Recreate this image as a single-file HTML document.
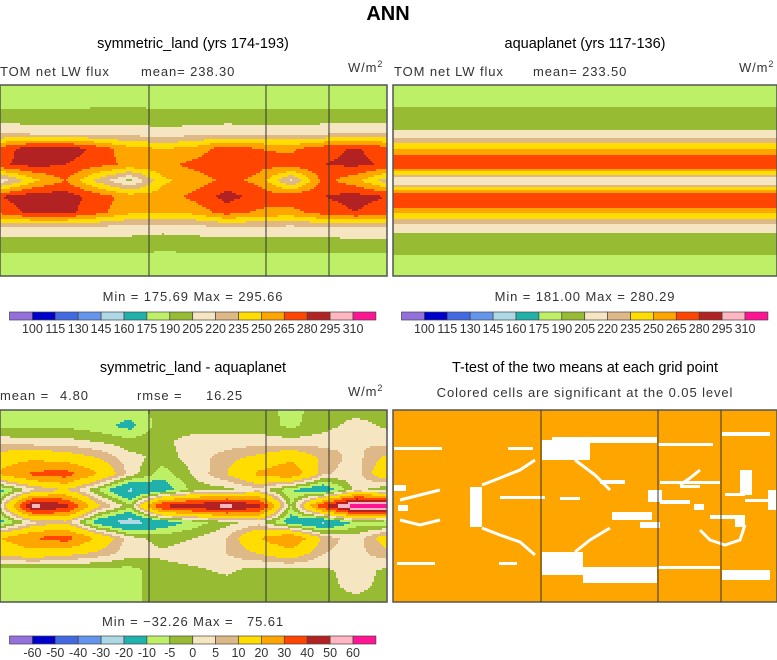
<!DOCTYPE html>
<html><head><meta charset="utf-8"><style>
body{margin:0;background:#fff;width:777px;height:660px;overflow:hidden}
svg{display:block}
text{font-family:"Liberation Sans",sans-serif;white-space:pre}
.t{font-size:14.5px;fill:#000}
.s{font-size:13px;fill:#333;letter-spacing:0.9px}
</style></head><body>
<svg id="fig" width="777" height="660">
<text x="388" y="20" text-anchor="middle" font-weight="bold" font-size="20">ANN</text>
<text class="t" x="193" y="48" text-anchor="middle">symmetric_land (yrs 174-193)</text>
<text class="t" x="585" y="48" text-anchor="middle">aquaplanet (yrs 117-136)</text>
<text class="s" x="0" y="76">TOM net LW flux</text>
<text class="s" x="141" y="76">mean= 238.30</text>
<text class="s" x="348" y="72">W/m<tspan font-size="9" dy="-5">2</tspan></text>
<text class="s" x="394" y="76">TOM net LW flux</text>
<text class="s" x="533" y="76">mean= 233.50</text>
<text class="s" x="739" y="72">W/m<tspan font-size="9" dy="-5">2</tspan></text>
<text class="s" x="193" y="301" text-anchor="middle">Min = 175.69 Max = 295.66</text>
<text class="s" x="585" y="301" text-anchor="middle">Min = 181.00 Max = 280.29</text>
<text class="t" x="193" y="372" text-anchor="middle">symmetric_land - aquaplanet</text>
<text class="t" x="585" y="372" text-anchor="middle">T-test of the two means at each grid point</text>
<text class="s" x="0" y="400">mean =</text>
<text class="s" x="60" y="400">4.80</text>
<text class="s" x="137" y="400">rmse =</text>
<text class="s" x="206" y="400">16.25</text>
<text class="s" x="348" y="396">W/m<tspan font-size="9" dy="-5">2</tspan></text>
<text class="s" x="585" y="397" text-anchor="middle">Colored cells are significant at the 0.05 level</text>
<text class="s" x="193" y="626" text-anchor="middle" xml:space="preserve">Min = −32.26 Max =   75.61</text>
<g id="g1"></g>
<g id="g2"></g>
<g id="g3"></g>
<g id="g4"></g>
<g id="cb"></g>
</svg>
<script>
const colors=["#9370db","#0000cd","#4169e1","#6495ed","#add8e6","#20b2aa","#bdf066","#97bb33","#f5e5c0","#deb887","#ffdd00","#ffa500","#ff4500","#b22222","#ffb6c1","#ff1493"];
const levelsAbs=[100,115,130,145,160,175,190,205,220,235,250,265,280,295,310];
const levelsDiff=[-60,-50,-40,-30,-20,-10,-5,0,5,10,20,30,40,50,60];
const gridLand=[
[183,183,183,183,183,183,183,183,183,183,183,183,183],
[183,183,183,184,185,183,184,184,183,184,184,183,183],
[197,197,197,198,199,196,197,197,196,197,197,197,197],
[216,214,214,213,212,210,212,215,215,213,215,217,217],
[272,290,290,275,255,250,255,275,265,262,275,282,272],
[278,285,280,270,262,260,270,278,270,272,280,283,278],
[210,245,265,230,200,247,255,270,260,217,270,255,225],
[280,290,288,273,258,256,270,286,274,274,280,286,280],
[270,285,285,270,253,250,255,272,262,260,272,280,270],
[216,214,214,213,212,210,212,215,215,213,215,217,217],
[198,198,198,198,198,196,197,197,197,198,198,198,198],
[184,184,184,184,184,183,184,184,184,184,184,184,184],
[182,182,182,182,182,182,182,182,182,182,182,182,182]];
const aquaBandEdges=[85,107,130,138,143,149,155,169,171,175,177,185,187,190,193,208,213,219,224,233,255,276];
const aquaBandValues=[183,197,212,227,242,257,272,257,242,227,212,227,242,257,272,257,242,227,212,197,183];
const gridDiff=[
[-7,-7,-7,-7,-7,-3,-2,-2,-2,-7,-2,-2,-2],
[-6,-6,-6,-8,-12,-2,-2,-2,-3,-6,-2,2,-1],
[3,2,2,0,-3,-1,2,2,3,2,3,5,3],
[15,18,15,10,2,-2,2,8,12,18,8,3,12],
[22,32,35,20,3,-8,1,10,22,28,6,2,18],
[-12,3,10,-5,-22,-15,-3,-2,3,-10,-18,2,-5],
[2,55,45,12,-3,42,48,55,45,-5,40,70,65],
[-12,3,8,-15,-25,-15,-8,-2,2,-15,-22,-8,-10],
[20,30,35,18,2,-2,0,5,20,30,8,2,15],
[12,15,12,8,2,1,3,5,10,15,5,3,8],
[-7,-7,-7,-7,-7,-2,-1,1,-2,-2,-1,2,-1],
[-7,-7,-7,-7,-7,-2,-2,-2,-2,-2,-2,2,-2],
[-7,-7,-7,-7,-7,-2,-2,-2,-2,-2,-2,-2,-2]];
const cbLabelsAbs=["100","115","130","145","160","175","190","205","220","235","250","265","280","295","310"];
const cbLabelsDiff=["-60","-50","-40","-30","-20","-10","-5","0","5","10","20","30","40","50","60"];
const NS="http://www.w3.org/2000/svg";
function mk(tag,attrs,parent){const e=document.createElementNS(NS,tag);for(const k in attrs)e.setAttribute(k,attrs[k]);parent.appendChild(e);return e;}
function colorIdx(v,lev){let i=0;while(i<lev.length&&v>=lev[i])i++;return i;}
function bilin(g,fx,fy){const R=g.length-1,C=g[0].length-1;let x=fx*C,y=fy*R;let j=Math.min(Math.floor(x),C-1),i=Math.min(Math.floor(y),R-1);const tx=x-j,ty=y-i;
return g[i][j]*(1-tx)*(1-ty)+g[i][j+1]*tx*(1-ty)+g[i+1][j]*(1-tx)*ty+g[i+1][j+1]*tx*ty;}
function drawField(gid,g,lev,x0,y0,w,h,name){
 const G=document.getElementById(gid);const st=2;
 for(let y=0;y<h;y+=st){let runStart=0,runC=-1;
  for(let x=0;;x+=st){const end=x>=w;const xx=end?w:x;
   const c=end?-2:colorIdx(bilin(g,x/w,Math.min((y+1)/h,1)),lev);
   if(c!==runC){if(runC>=0){const r=mk('rect',{x:x0+runStart,y:y0+y,width:xx-runStart+0.6,height:Math.min(st,h-y)+0.6,fill:colors[runC]},G);
     
     }
    runStart=xx;runC=c;}
   if(end)break;}}
}
function frame(G,x0,y0,w,h,vl){mk('rect',{x:x0,y:y0,width:w,height:h,fill:'none',stroke:'#555','stroke-width':1.5},G);
 vl.forEach(v=>mk('line',{x1:x0+v,x2:x0+v,y1:y0,y2:y0+h,stroke:'#333','stroke-width':1},G));}
drawField('g1',gridLand,levelsAbs,0,85,387,191,'land');
frame(document.getElementById('g1'),0,85,387,191,[149,266,329]);
drawField('g3',gridDiff,levelsDiff,0,410,387,192,'diff');
frame(document.getElementById('g3'),0,410,387,192,[149,266,329]);
const g2=document.getElementById('g2');
aquaBandValues.forEach((v,i)=>{const r=mk('rect',{x:393,y:aquaBandEdges[i],width:384,height:aquaBandEdges[i+1]-aquaBandEdges[i]+0.5,fill:colors[colorIdx(v,levelsAbs)]},g2);
 
 });
frame(g2,393,85,384,191,[]);
const g4=document.getElementById('g4');
mk('rect',{x:393,y:410,width:384,height:192,fill:'#ffa500'},g4);
const wr=[[394,447,48,3],[508,447,25,3],[542,440,48,20],[552,437,105,6],[658,443,55,3],[722,432,48,4],[660,481,60,3],[397,562,38,3],[499,562,18,3],[542,552,41,23],[583,567,74,16],[658,566,62,3],[722,570,48,10],
[470,487,12,40],[648,490,14,12],[500,496,45,3],[560,497,20,3],[612,512,40,8],[640,522,20,6],[660,500,30,4],[694,504,10,6],[600,480,25,4],[740,470,12,25],[745,499,25,3],[735,515,10,12],[710,515,30,4],[394,485,12,6],[398,505,10,6],[680,485,20,3],[725,493,20,3],[768,490,8,20]];
wr.forEach(a=>{const r=mk('rect',{x:a[0],y:a[1],width:a[2],height:a[3],fill:'#fff'},g4);
 
 });
const paths=["M482,485 L500,478 L520,470 L535,460","M482,528 L500,535 L520,542 L535,555","M575,460 L595,475 L610,490","M575,552 L590,540 L610,528","M700,470 L690,478 L680,485","M700,530 L710,540 L725,545 L740,540 L745,525","M400,500 L420,495 L440,490","M400,520 L420,525 L440,520"];
paths.forEach(d=>mk('path',{d:d,stroke:'#fff','stroke-width':3,fill:'none'},g4));
frame(g4,393,410,384,192,[148,265,328]);
const cb=document.getElementById('cb');
function colorbar(x0,y0,labels,name){const bw=22.9;
 colors.forEach((c,i)=>{const r=mk('rect',{x:x0+i*bw,y:y0,width:bw,height:8,fill:c,stroke:'#444','stroke-width':0.7},cb);
  
  });
 labels.forEach((l,i)=>{const t=mk('text',{x:x0+(i+1)*bw,y:y0+21,'text-anchor':'middle','font-size':12.5,fill:'#333'},cb);t.textContent=l;
  
  });}
colorbar(9.5,312,cbLabelsAbs,'colorbar1');
colorbar(401.5,312,cbLabelsAbs,'colorbar2');
colorbar(9.5,636,cbLabelsDiff,'colorbar3');
</script>
</body></html>
